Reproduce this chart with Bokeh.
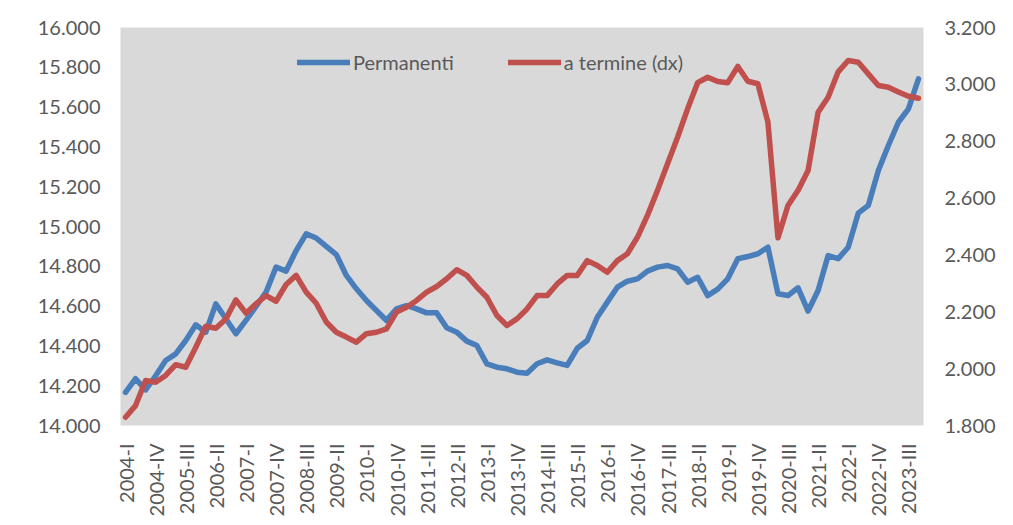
from bokeh.plotting import figure
from bokeh.models import (Range1d, LinearAxis, FixedTicker, CustomJSTickFormatter,
                          Legend, LegendItem)
from bokeh.embed import file_html
from bokeh.resources import INLINE
import math

# Quarterly categories 2004-I .. 2023-IV
years = list(range(2004, 2024))
roman = ["I", "II", "III", "IV"]
quarters = [f"{y}-{q}" for y in years for q in roman]

# Permanenti (left axis, thousands)
permanenti = [
    14167, 14235, 14179, 14250, 14327, 14360, 14427, 14506, 14469, 14611,
    14536, 14461, 14528, 14598, 14670, 14796, 14776, 14879, 14963, 14942,
    14900, 14859, 14754, 14687, 14628, 14578, 14528, 14586, 14603, 14586,
    14566, 14566, 14491, 14469, 14424, 14402, 14310, 14293, 14285, 14268,
    14263, 14310, 14330, 14315, 14302, 14388, 14427, 14544, 14620, 14695,
    14725, 14737, 14776, 14796, 14804, 14787, 14720, 14745, 14653, 14685,
    14737, 14838, 14849, 14863, 14896, 14662, 14653, 14692, 14575, 14678,
    14854, 14838, 14896, 15067, 15106, 15281, 15407, 15524, 15591, 15742,
]

# A termine (right axis, thousands)
a_termine = [
    1829, 1870, 1958, 1952, 1976, 2014, 2005, 2075, 2149, 2142,
    2175, 2242, 2195, 2228, 2257, 2237, 2296, 2328, 2269, 2230,
    2164, 2128, 2111, 2093, 2123, 2128, 2140, 2199, 2216, 2240,
    2269, 2289, 2316, 2348, 2328, 2287, 2251, 2187, 2152, 2175,
    2210, 2257, 2257, 2298, 2328, 2328, 2380, 2363, 2339, 2380,
    2404, 2462, 2539, 2627, 2721, 2814, 2914, 3006, 3025, 3010,
    3006, 3063, 3011, 3002, 2867, 2460, 2574, 2627, 2697, 2902,
    2955, 3044, 3084, 3078, 3037, 2996, 2990, 2973, 2958, 2951,
]

tick_labels = [
    "2004-I", "2004-IV", "2005-III", "2006-II", "2007-I", "2007-IV",
    "2008-III", "2009-II", "2010-I", "2010-IV", "2011-III", "2012-II",
    "2013-I", "2013-IV", "2014-III", "2015-II", "2016-I", "2016-IV",
    "2017-III", "2018-II", "2019-I", "2019-IV", "2020-III", "2021-II",
    "2022-I", "2022-IV", "2023-III",
]

left_ticks = [14000, 14200, 14400, 14600, 14800, 15000, 15200, 15400, 15600, 15800, 16000]
right_ticks = [1800, 2000, 2200, 2400, 2600, 2800, 3000, 3200]

FONT = "Lato"
TXT = "#595959"
BLUE = "#4a7ebb"
RED = "#c0504d"

x = list(range(len(quarters)))
tick_pos = [quarters.index(t) for t in tick_labels]

p = figure(frame_width=803, frame_height=398,
           x_range=Range1d(-0.5, len(quarters) - 0.5),
           y_range=Range1d(14000, 16000),
           output_backend="svg", toolbar_location=None,
           min_border_left=120, min_border_top=27,
           min_border_right=86, min_border_bottom=98)
p.extra_y_ranges = {"right": Range1d(1800, 3200)}

p.background_fill_color = "#d9d9d9"
p.border_fill_color = "white"
p.outline_line_color = None
p.grid.visible = False

thousands = CustomJSTickFormatter(code="""
    return Math.round(tick).toString().replace(/\\B(?=(\\d{3})+(?!\\d))/g, '.');
""")

# left axis
ya = p.yaxis[0]
ya.ticker = FixedTicker(ticks=left_ticks)
ya.formatter = thousands
# x axis
xa = p.xaxis[0]
xa.ticker = FixedTicker(ticks=tick_pos)
xa.major_label_overrides = {i: quarters[i] for i in tick_pos}
xa.major_label_orientation = math.pi / 2

ra = LinearAxis(y_range_name="right", ticker=FixedTicker(ticks=right_ticks),
                formatter=thousands)
p.add_layout(ra, "right")

for ax in [xa, ya, ra]:
    ax.axis_line_color = None
    ax.major_tick_line_color = None
    ax.minor_tick_line_color = None
    ax.major_label_text_font = FONT
    ax.major_label_text_font_size = "20px"
    ax.major_label_text_color = TXT
ya.major_label_standoff = 14
ra.major_label_standoff = 15
xa.major_label_standoff = 12

r1 = p.line(x, permanenti, line_color=BLUE, line_width=5.5,
            line_join="round", line_cap="round")
r2 = p.line(x, a_termine, line_color=RED, line_width=5.5,
            line_join="round", line_cap="round", y_range_name="right")

legend = Legend(items=[LegendItem(label="Permanenti", renderers=[r1]),
                       LegendItem(label="a termine (dx)", renderers=[r2])],
                orientation="horizontal", location=(177, 351),
                glyph_width=53, glyph_height=20, label_standoff=3, spacing=54,
                padding=0, margin=0,
                background_fill_alpha=0, border_line_color=None,
                label_text_font=FONT, label_text_font_size="20px",
                label_text_color=TXT)
p.add_layout(legend, "center")

open("out.html", "w").write(file_html(p, INLINE))
